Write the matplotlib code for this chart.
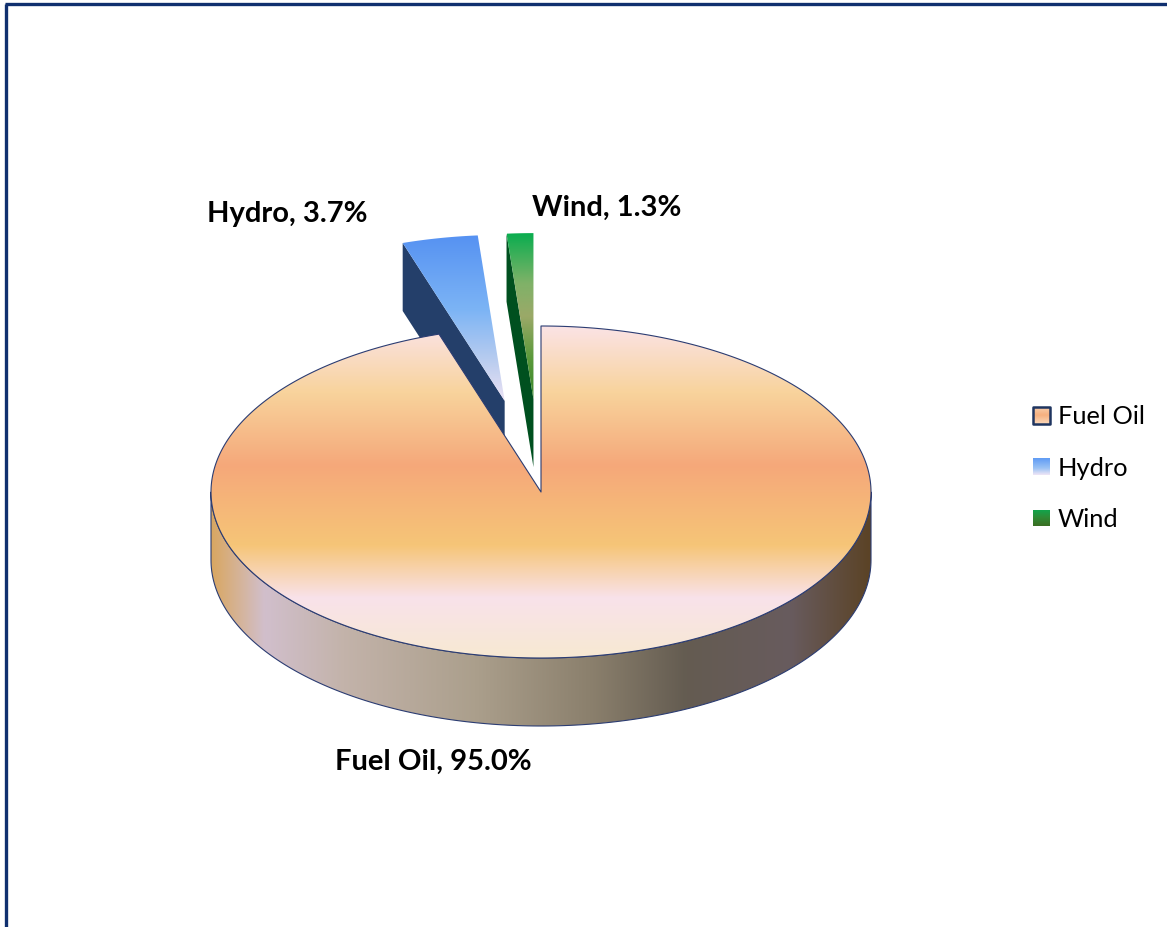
import numpy as np
import matplotlib
matplotlib.use("Agg")
import matplotlib.pyplot as plt
from matplotlib.patches import Polygon
from matplotlib.colors import LinearSegmentedColormap

# ---- data -------------------------------------------------------------
sources = ["Fuel Oil", "Hydro", "Wind"]
shares = [95.0, 3.7, 1.3]            # percent of generation
explode = [0.0, 0.56, 0.56]          # radial pull-out (fraction of radius)

# ---- styling ----------------------------------------------------------
top_stops = [
    [(0.00, "#fbe3e5"), (0.20, "#f8d39c"), (0.42, "#f5a87a"),
     (0.66, "#f6c577"), (0.82, "#f9e2ea"), (1.00, "#f7e9d2")],
    [(0.00, "#5692f2"), (0.45, "#7cb4f5"), (0.75, "#b8ccef"), (1.00, "#ece2f4")],
    [(0.00, "#0aad4f"), (0.30, "#7fb268"), (0.50, "#9ba968"),
     (0.75, "#5c9a3c"), (1.00, "#3a8628")],
]
wall_stops = [
    (0.00, "#d9a762"), (0.08, "#d1bfcc"), (0.20, "#c3b3aa"),
    (0.40, "#ab9f8c"), (0.58, "#8a7f6c"), (0.72, "#645c51"),
    (0.88, "#685b5e"), (1.00, "#5b4326"),
]
face_colors = ["#b07a50", "#243f6a", "#00501f"]
legend_stops = [
    [(0.0, "#f9d3b2"), (0.5, "#f6b07f"), (1.0, "#fbd9bb")],
    [(0.0, "#5f9bf5"), (0.6, "#9cc3f4"), (1.0, "#f1e6f6")],
    [(0.0, "#0ea84f"), (0.5, "#2f8a35"), (1.0, "#3b6e22")],
]
outline = "#2b3c72"
frame = "#10306f"

W, H = 1167, 928
fig = plt.figure(figsize=(W / 100, H / 100), dpi=100)
ax = fig.add_axes([0, 0, 1, 1])
ax.axis("off")

# pie layout (pixels)
cx, cy, rx, ry, depth = 541.0, 493.0, 330.0, 166.0, 68.0


def point(theta, r=1.0, off=(0.0, 0.0), dz=0.0):
    """Projected point; theta in degrees, clockwise from 12 o'clock."""
    t = np.radians(theta)
    return np.column_stack([cx + off[0] + r * rx * np.sin(t),
                            cy + off[1] - r * ry * np.cos(t) + dz])


def gradient_patch(verts, stops, vertical=True, extent=None, z=1.0,
                   edge="none", lw=0.0):
    verts = np.asarray(verts)
    poly = Polygon(verts, closed=True, facecolor="none", edgecolor=edge,
                   lw=lw, zorder=z + 0.01, joinstyle="round")
    ax.add_patch(poly)
    if extent is None:
        extent = (verts[:, 0].min(), verts[:, 0].max(),
                  verts[:, 1].min(), verts[:, 1].max())
    x0, x1, y0, y1 = extent
    cmap = LinearSegmentedColormap.from_list("g", stops)
    g = np.linspace(0, 1, 256)
    img = g[:, None] if vertical else g[None, :]
    im = ax.imshow(img, cmap=cmap, vmin=0, vmax=1, extent=(x0, x1, y1, y0),
                   origin="upper", aspect="auto", zorder=z,
                   interpolation="bilinear")
    im.set_clip_path(poly)
    return poly


def solid_patch(verts, color, z, edge="none", lw=0.0):
    ax.add_patch(Polygon(np.asarray(verts), closed=True, facecolor=color,
                         edgecolor=edge, lw=lw, zorder=z))


total = float(sum(shares))
bounds = np.concatenate([[0.0], np.cumsum(shares)]) / total * 360.0

# draw order: slices further back first
order = []
for i in range(len(shares)):
    a0, a1 = bounds[i], bounds[i + 1]
    mid = 0.5 * (a0 + a1)
    t = np.radians(mid)
    off = (explode[i] * rx * np.sin(t), -explode[i] * ry * np.cos(t))
    back = off[1] + cy - 0.5 * ry * np.cos(t)
    order.append((back, i, a0, a1, off))
order.sort()

for rank, (_, i, a0, a1, off) in enumerate(order):
    z = 2 + rank * 3
    lw = 0.8 if explode[i] == 0 else 0.0
    ec = outline if explode[i] == 0 else "none"
    apex = point(0, 0.0, off)[0]

    # radial side faces that turn toward the viewer
    for edge_ang, visible in ((a0, np.sin(np.radians(a0)) < -1e-9),
                              (a1, np.sin(np.radians(a1)) > 1e-9)):
        if visible:
            outer = point(edge_ang, 1.0, off)[0]
            verts = [apex, outer, outer + [0, depth], apex + [0, depth]]
            solid_patch(verts, face_colors[i], z)

    # outer rim where it faces the front (90..270 deg)
    lo, hi = max(a0, 90.0), min(a1, 270.0)
    if hi > lo:
        th = np.linspace(lo, hi, 200)
        upper = point(th, 1.0, off)
        lower = point(th[::-1], 1.0, off, depth)
        verts = np.vstack([upper, lower])
        gradient_patch(verts, wall_stops, vertical=False,
                       extent=(cx + off[0] - rx, cx + off[0] + rx,
                               verts[:, 1].min(), verts[:, 1].max()),
                       z=z + 0.5, edge=ec, lw=lw)

    # top face
    th = np.linspace(a0, a1, max(int(a1 - a0) * 2, 20))
    verts = np.vstack([[apex], point(th, 1.0, off)])
    if explode[i] == 0:
        ext = (cx - rx, cx + rx, cy - ry, cy + ry)
    else:
        ext = None
    gradient_patch(verts, top_stops[i], vertical=True, extent=ext,
                   z=z + 1, edge=ec, lw=lw)

# ---- data labels --------------------------------------------------------
label_font = dict(family=["Lato", "DejaVu Sans"], weight="bold",
                  fontsize=21, color="#000000")
label_pos = [(433, 762), (287, 214), (607, 208)]
for name, val, (lx, ly) in zip(sources, shares, label_pos):
    ax.text(lx, ly, f"{name}, {val:.1f}%", ha="center", va="center",
            zorder=50, **label_font)

# ---- legend -------------------------------------------------------------
leg_x, leg_y0, leg_dy, box = 1033.0, 416.0, 51.5, 17.0
for k, name in enumerate(sources):
    yc = leg_y0 + k * leg_dy
    sq = [(leg_x, yc - box / 2), (leg_x + box, yc - box / 2),
          (leg_x + box, yc + box / 2), (leg_x, yc + box / 2)]
    if k == 0:
        gradient_patch(sq, legend_stops[k], z=40, edge="#1f3560", lw=1.8)
    else:
        gradient_patch(sq, legend_stops[k], z=40)
    ax.text(leg_x + box + 8, yc + 1, name, ha="left", va="center",
            family=["Lato", "DejaVu Sans"], fontsize=18.3, color="#000000",
            zorder=50)

# ---- chart frame (top and left edges) -----------------------------------
ax.plot([5, W], [5, 5], color=frame, lw=2.4, zorder=60,
        solid_capstyle="butt")
ax.plot([6, 6], [5, H], color=frame, lw=2.4, zorder=60,
        solid_capstyle="butt")

ax.set_xlim(0, W)
ax.set_ylim(H, 0)
fig.savefig("out.png", dpi=100, facecolor="white")
